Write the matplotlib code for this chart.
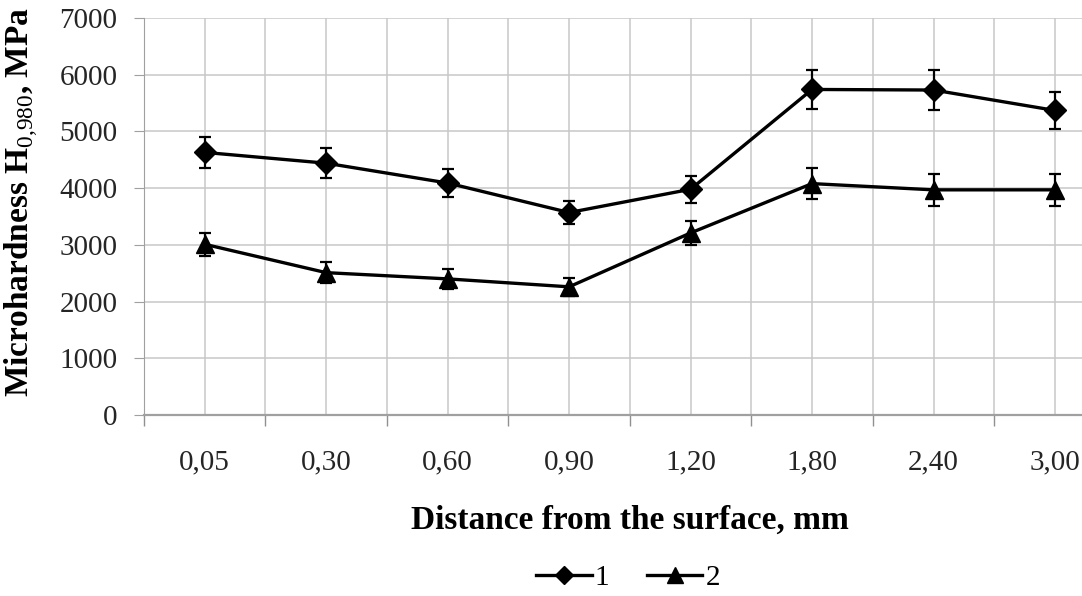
import matplotlib.pyplot as plt
from matplotlib.ticker import FixedLocator
from matplotlib.lines import Line2D

plt.rcParams['font.family'] = ['Liberation Serif', 'DejaVu Serif']
plt.rcParams['mathtext.fontset'] = 'custom'
plt.rcParams['mathtext.rm'] = 'Liberation Serif'
plt.rcParams['mathtext.bf'] = 'Liberation Serif:bold'

distances = ["0,05", "0,30", "0,60", "0,90", "1,20", "1,80", "2,40", "3,00"]
hard_1 = [4630, 4440, 4090, 3570, 3980, 5740, 5730, 5370]
err_1 = [270, 265, 240, 210, 235, 350, 350, 325]
hard_2 = [3010, 2510, 2400, 2260, 3210, 4080, 3970, 3970]
err_2 = [200, 185, 180, 160, 210, 280, 280, 280]

fig = plt.figure(figsize=(10.82, 5.96), dpi=100)
ax = fig.add_axes([144 / 1082, 1 - 415 / 596, (1115.7 - 144) / 1082, 397 / 596])

x = list(range(len(distances)))
ax.errorbar(x, hard_1, yerr=err_1, color='black', lw=2.4, marker='D', ms=11,
            capsize=4, elinewidth=1.6, capthick=1.6, zorder=3)
ax.errorbar(x, hard_2, yerr=err_2, color='black', lw=2.4, marker='^', ms=13,
            capsize=4, elinewidth=1.6, capthick=1.6, zorder=3)

ax.set_xlim(-0.5, len(distances) - 0.5)
ax.set_ylim(0, 7000)
ax.set_yticks(range(0, 7001, 1000))
ax.set_xticks(x)
ax.set_xticklabels(distances)
ax.xaxis.set_minor_locator(FixedLocator([i - 0.5 for i in range(len(distances) + 1)]))

ax.grid(True, which='both', color='#c8c8c8', lw=1.1)
ax.set_axisbelow(True)
for s in ax.spines.values():
    s.set_visible(False)
ax.spines['left'].set_visible(True)
ax.spines['bottom'].set_visible(True)
ax.spines['left'].set_color('#a0a0a0')
ax.spines['bottom'].set_color('#a0a0a0')
ax.spines['bottom'].set_linewidth(1.6)

ax.tick_params(axis='x', which='major', length=0, pad=25, labelsize=21, labelcolor='#252525')
ax.tick_params(axis='x', which='minor', length=8, color='#909090', width=1)
ax.tick_params(axis='y', length=7, color='#a0a0a0', pad=12, labelsize=21, labelcolor='#252525')

fig.text(22 / 1082, 1 - 202 / 596, r'Microhardness H$_\mathrm{0{,}980}$, MPa',
         rotation=90, ha='center', va='center', fontsize=24, fontweight='bold')
fig.text(630 / 1082, 1 - 520 / 596, 'Distance from the surface, mm',
         ha='center', va='center', fontsize=24, fontweight='bold')

handles = [Line2D([], [], color='black', lw=2.4, marker='D', ms=9),
           Line2D([], [], color='black', lw=2.4, marker='^', ms=11)]
fig.legend(handles, ['1', '2'], loc='center', bbox_to_anchor=(628 / 1082, 1 - 578 / 596),
           ncol=2, frameon=False, fontsize=21, handlelength=1.9, handletextpad=0.1,
           columnspacing=1.3)

fig.savefig('out.png', dpi=100)
